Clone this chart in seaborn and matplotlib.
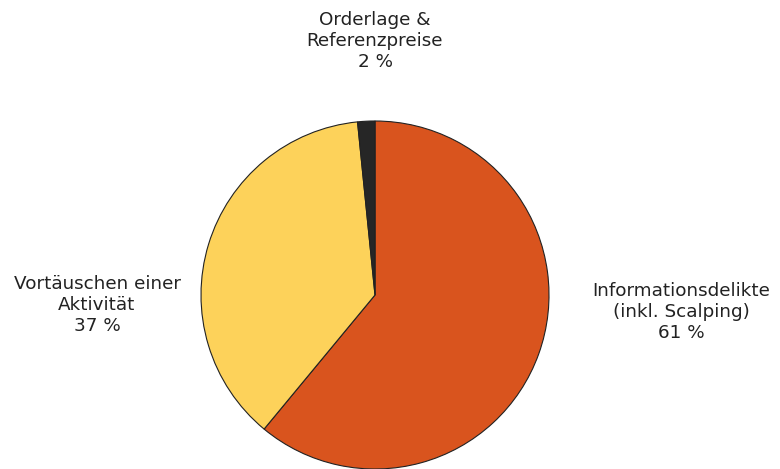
import matplotlib
matplotlib.use("Agg")
import matplotlib.pyplot as plt
import seaborn as sns

categories = ["Informationsdelikte\n(inkl. Scalping)", "Vortäuschen einer\nAktivität", "Orderlage &\nReferenzpreise"]
shares = [61.0, 37.4, 1.6]          # slice sizes
share_labels = ["61 %", "37 %", "2 %"]
colors = ["#D9541E", "#FDD25A", "#262626"]

sns.set_theme(style="white")
plt.rcParams["font.family"] = ["DejaVu Sans"]

fig = plt.figure(figsize=(7.8, 4.69), dpi=100)
ax = fig.add_axes([201 / 780, 0.0, 348 / 780, 348 / 469])

wedges, _ = ax.pie(
    shares,
    colors=colors,
    startangle=90,
    counterclock=False,
    wedgeprops={"edgecolor": "#222222", "linewidth": 0.8},
)
ax.set_aspect("equal")
ax.set_xlim(-1.0, 1.0)
ax.set_ylim(-1.0, 1.0)

# label positions in pixels (x center, y of top line)
label_pos = [(681, 282), (97, 275), (375, 11)]
for cat, lab, (px, py) in zip(categories, share_labels, label_pos):
    fig.text(px / 780, 1 - py / 469, f"{cat}\n{lab}", ha="center", va="top",
             fontsize=13.2, color="#222222", linespacing=1.2)

fig.savefig("out.png", dpi=100)
